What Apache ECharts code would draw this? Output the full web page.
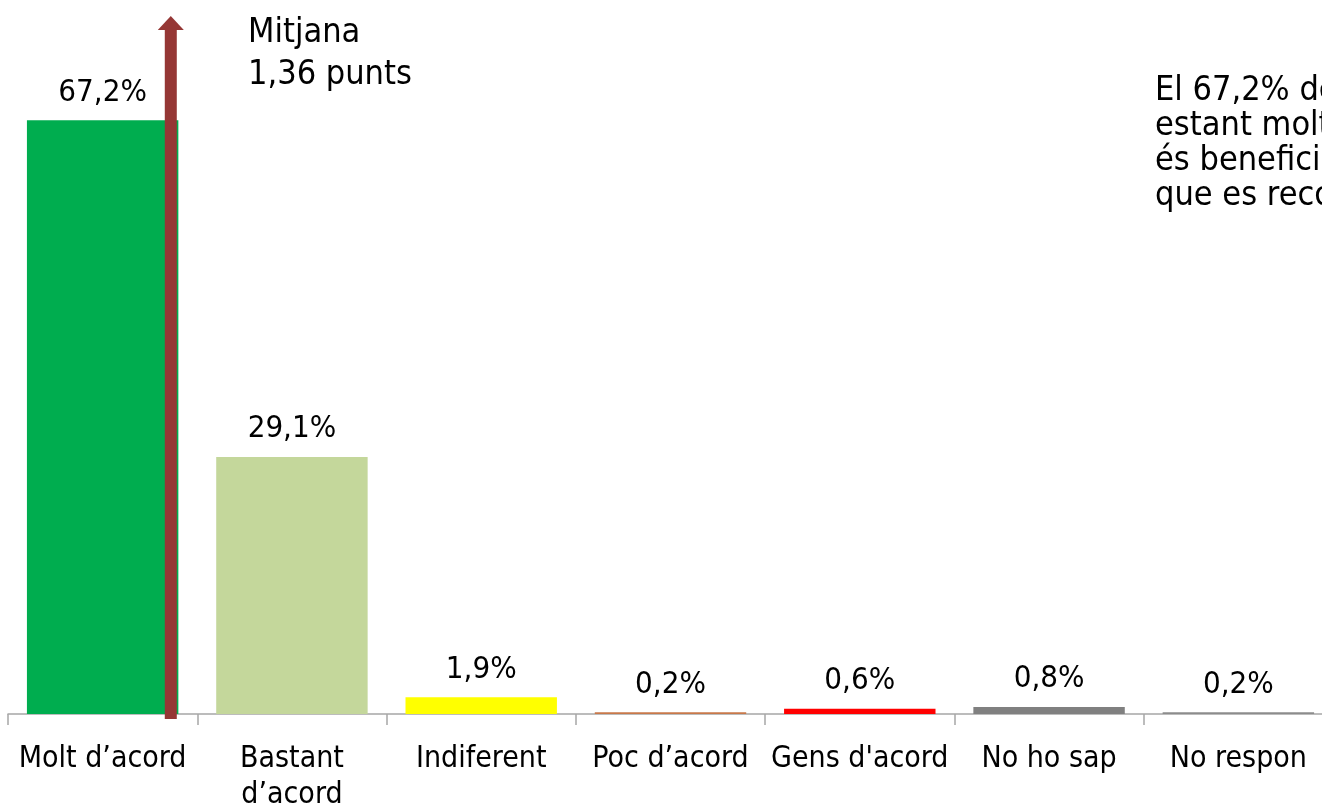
<!DOCTYPE html>
<html>
<head>
<meta charset="utf-8">
<script src="https://cdn.jsdelivr.net/npm/echarts@6/dist/echarts.min.js"></script>
<style>
  html, body { margin: 0; padding: 0; background: #fff; overflow: hidden; }
  #chart { width: 1342px; height: 809px; }
</style>
</head>
<body>
<div id="chart"></div>
<script>
// Answer categories and share of respondents (%)
const categories = ['Molt d’acord', 'Bastant\nd’acord', 'Indiferent', 'Poc d’acord', 'Gens d\'acord', 'No ho sap', 'No respon'];
const percentages = [67.2, 29.1, 1.9, 0.2, 0.6, 0.8, 0.2];
// Mean score on the agreement scale (category positions 1..7)
const meanScore = 1.36;
const meanLines = ['Mitjana', '1,36 punts'];
const noteLines = [
  'El 67,2% dels enquestats es declara',
  'estant molt d’acord que el projecte',
  'és beneficiós per al municipi i',
  'que es reconegui la seva tasca'
];

const barColors = ['#00ad4f', '#c4d79b', '#ffff00', '#c8784a', '#ff0000', '#808080', '#8c8c8c'];
const FONT = '"DejaVu Sans Condensed", "DejaVu Sans", sans-serif';
const Y_MAX = 79;

const fmt = v => v.toFixed(1).replace('.', ',') + '%';

const chart = echarts.init(document.getElementById('chart'), null, { renderer: 'canvas' });

chart.setOption({
  animation: false,
  backgroundColor: '#ffffff',
  textStyle: { fontFamily: FONT },
  grid: { left: 8, right: 9, top: 16, bottom: 95, containLabel: false, outerBoundsMode: 'none' },
  xAxis: [
    {
      type: 'category',
      data: categories,
      axisLine: { show: true, lineStyle: { color: '#a6a6a6', width: 1.5 } },
      axisTick: { show: true, length: 11, lineStyle: { color: '#a6a6a6', width: 1.5 } },
      axisLabel: {
        color: '#000', fontFamily: FONT, fontSize: 30, lineHeight: 36,
        margin: 27, interval: 0
      },
      splitLine: { show: false }
    },
    {
      type: 'value', min: 0.5, max: categories.length + 0.5, show: false
    }
  ],
  yAxis: { type: 'value', min: 0, max: Y_MAX, show: false, splitLine: { show: false } },
  series: [
    {
      type: 'bar',
      xAxisIndex: 0,
      barCategoryGap: '20%',
      data: percentages.map((v, i) => ({ value: v, itemStyle: { color: barColors[i] } })),
      label: {
        show: true, position: 'top', distance: 12,
        color: '#000', fontFamily: FONT, fontSize: 31,
        formatter: p => fmt(p.value)
      }
    },
    {
      // Arrow marking the mean score
      type: 'custom',
      xAxisIndex: 1,
      z: 5,
      data: [[meanScore, Y_MAX]],
      renderItem: (params, api) => {
        const tip = api.coord([api.value(0), api.value(1)]);
        const base = api.coord([api.value(0), 0]);
        const shaftW = 12, headW = 26, headH = 14;
        const x = tip[0];
        return {
          type: 'group',
          children: [
            {
              type: 'rect',
              shape: { x: x - shaftW / 2, y: tip[1] + headH - 1, width: shaftW, height: base[1] + 5 - (tip[1] + headH - 1) },
              style: { fill: '#953735' }
            },
            {
              type: 'polygon',
              shape: { points: [[x, tip[1]], [x + headW / 2, tip[1] + headH], [x - headW / 2, tip[1] + headH]] },
              style: { fill: '#953735' }
            }
          ]
        };
      }
    }
  ],
  graphic: [
    {
      type: 'text', left: 248, top: 12,
      style: { text: meanLines.join('\n'), fontFamily: FONT, fontSize: 34, fill: '#000', lineHeight: 42 }
    },
    {
      type: 'text', left: 1155, top: 74,
      style: { text: noteLines.join('\n'), fontFamily: FONT, fontSize: 34, fill: '#000', lineHeight: 35 }
    }
  ]
});
</script>
</body>
</html>
